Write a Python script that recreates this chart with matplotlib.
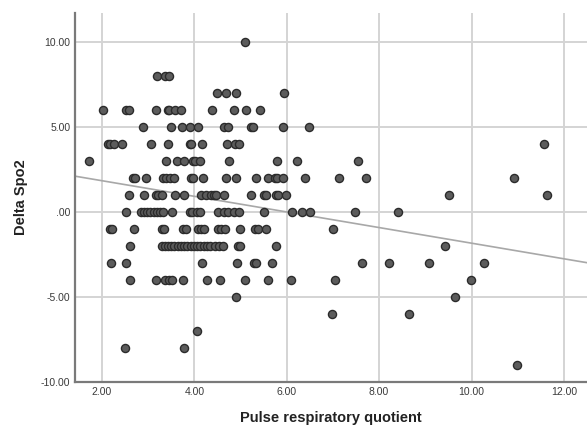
import numpy as np
import matplotlib
matplotlib.use("Agg")
import matplotlib.pyplot as plt

plt.rcParams["font.family"] = ["Liberation Sans", "DejaVu Sans"]

# x values (pulse respiratory quotient) for each integer delta SpO2 row
rows = {
    10: [5.10],
    8: [3.20, 3.37, 3.45],
    7: [4.49, 4.68, 4.90, 5.94],
    6: [2.03, 2.53, 2.58, 3.18, 3.42, 3.46, 3.59, 3.71, 4.39, 4.85, 5.12, 5.43],
    5: [2.89, 3.50, 3.73, 3.91, 4.07, 4.65, 4.72, 5.22, 5.28, 5.93, 6.49],
    4: [2.13, 2.18, 2.27, 2.43, 3.07, 3.42, 3.90, 3.93, 4.16, 4.70, 4.89, 4.96, 11.58],
    3: [1.73, 3.39, 3.62, 3.77, 3.97, 4.02, 4.12, 4.74, 5.79, 6.22, 7.54],
    2: [2.68, 2.72, 2.95, 3.33, 3.39, 3.48, 3.55, 3.93, 3.98, 4.19, 4.69, 4.90,
        5.34, 5.59, 5.74, 5.79, 5.92, 6.39, 7.14, 7.71, 10.91],
    1: [2.59, 2.90, 3.17, 3.21, 3.31, 3.59, 3.77, 4.14, 4.26, 4.37, 4.42, 4.47,
        4.65, 5.23, 5.50, 5.56, 5.77, 5.82, 5.99, 9.52, 11.64],
    0: [2.53, 2.84, 2.90, 2.98, 3.05, 3.13, 3.19, 3.26, 3.32, 3.52, 3.90, 3.95,
        4.06, 4.13, 4.52, 4.64, 4.73, 4.86, 4.96, 5.50, 6.12, 6.34, 6.50, 7.48, 8.40],
    -1: [2.18, 2.21, 2.70, 3.31, 3.34, 3.75, 3.82, 4.08, 4.14, 4.21, 4.51, 4.57,
         4.66, 4.99, 5.32, 5.37, 5.55, 7.00],
    -2: [2.61, 3.30, 3.36, 3.43, 3.50, 3.57, 3.64, 3.71, 3.78, 3.85, 3.92, 3.99,
         4.06, 4.12, 4.20, 4.28, 4.35, 4.44, 4.53, 4.61, 4.94, 4.99, 5.77, 9.43],
    -3: [2.19, 2.53, 4.16, 4.92, 5.29, 5.34, 5.69, 7.63, 8.21, 9.07, 10.28],
    -4: [2.61, 3.18, 3.37, 3.45, 3.52, 3.75, 4.27, 4.55, 5.09, 5.60, 6.09, 7.05, 9.99],
    -5: [4.90, 9.65],
    -6: [6.99, 8.65],
    -7: [4.06],
    -8: [2.49, 3.77],
    -9: [10.98],
}

x = np.concatenate([rows[k] for k in rows])
y = np.concatenate([[k] * len(rows[k]) for k in rows]).astype(float)

# fit line
fit_intercept = 2.75
fit_slope = -0.459

xticks = [2, 4, 6, 8, 10, 12]
yticks = [-10, -5, 0, 5, 10]

fig = plt.figure(figsize=(5.87, 4.28), dpi=100)
ax = fig.add_axes([0.128, 0.1075, 0.872, 0.8625])

ax.set_xlim(1.42, 12.5)
ax.set_ylim(-10, 11.7)
ax.set_xticks(xticks)
ax.set_yticks(yticks)
ax.set_xticklabels(["%.2f" % v for v in xticks])
ax.set_yticklabels([".00" if v == 0 else "%.2f" % v for v in yticks])
ax.grid(True, color="#d4d4d4", linewidth=1.4)
ax.set_axisbelow(True)

for s in ["top", "right"]:
    ax.spines[s].set_visible(False)
for s in ["left", "bottom"]:
    ax.spines[s].set_color("#7a7a7a")
    ax.spines[s].set_linewidth(1.6)

ax.tick_params(length=0, labelsize=7.5, labelcolor="#3a3a3a", pad=3.5)

ax.scatter(x, y, s=34, c="#5c5c5c", edgecolors="#2b2b2b", linewidths=1.0, zorder=3)

xl = np.array(ax.get_xlim())
ax.plot(xl, fit_intercept + fit_slope * xl, color="#a8a8a8", linewidth=1.2, zorder=2)

ax.set_xlabel("Pulse respiratory quotient", fontsize=10.5, fontweight="bold", color="#222222", labelpad=10)
ax.set_ylabel("Delta Spo2", fontsize=10.5, fontweight="bold", color="#222222", labelpad=9)

fig.savefig("out.png", dpi=100)
